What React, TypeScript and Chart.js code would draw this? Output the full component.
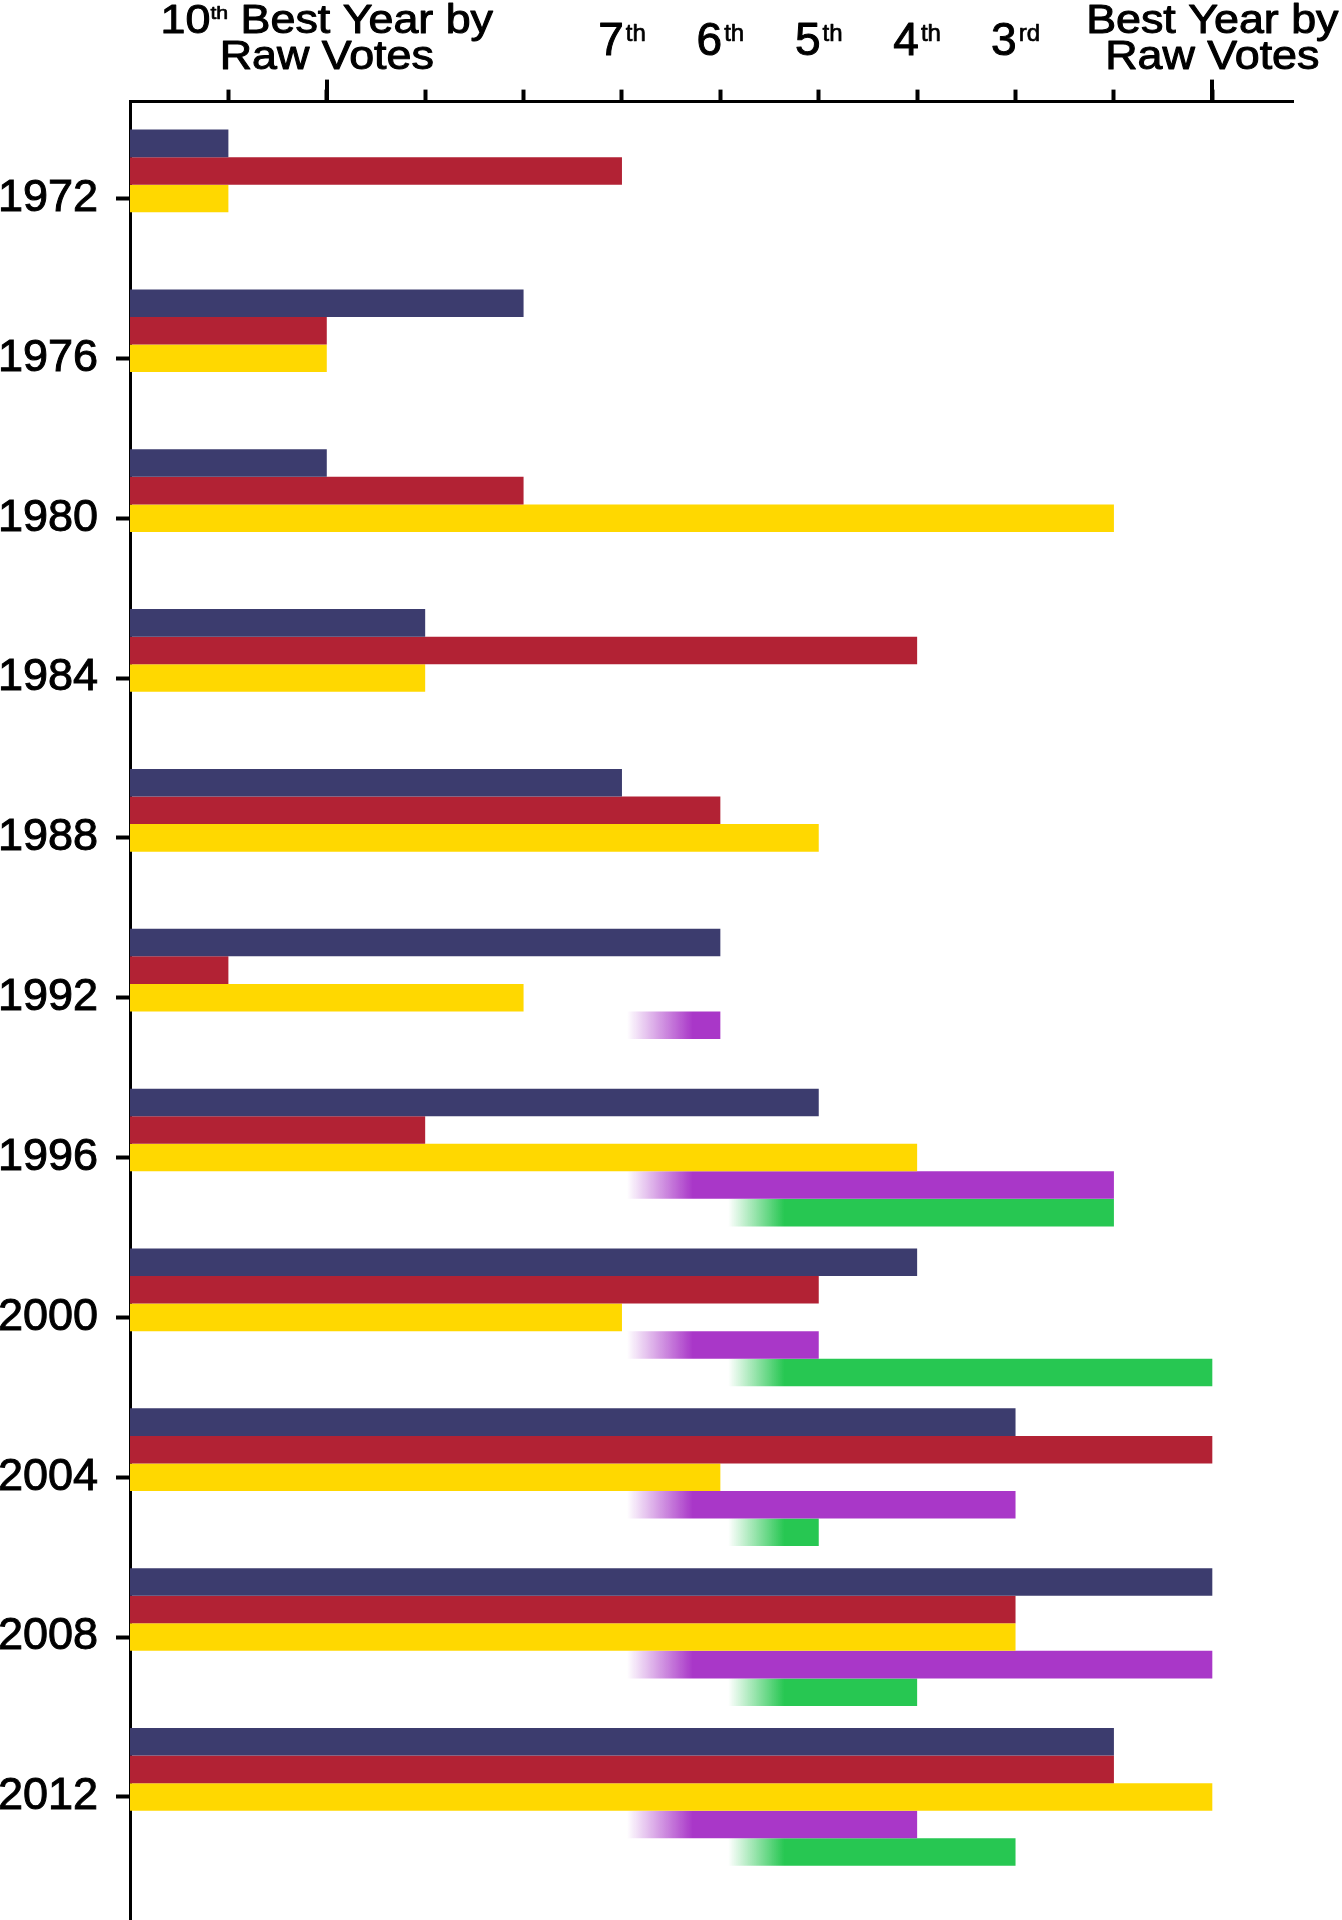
import React, { useEffect, useRef } from 'react';
import { Chart, registerables } from 'chart.js';

Chart.register(...registerables);

// ---- data (rank scores: 11 = best year by raw votes, 2 = 10th best) ----
const YEARS = ['1972', '1976', '1980', '1984', '1988', '1992', '1996', '2000', '2004', '2008', '2012'];
const NAVY = [1, 4, 2, 3, 5, 6, 7, 8, 9, 11, 10];
const RED = [5, 2, 4, 8, 6, 1, 3, 7, 11, 9, 10];
const YELLOW = [1, 2, 10, 3, 7, 4, 8, 5, 6, 9, 11];
const PURPLE = [null, null, null, null, null, 6, 10, 7, 9, 11, 8];
const GREEN = [null, null, null, null, null, null, 10, 11, 7, 8, 9];

// ---- axis ticks & labels ----
const RANK_TICKS = [1, 2, 3, 4, 5, 6, 7, 8, 9, 10, 11];
const MAJOR_TICKS = [2, 11];
const ORDINAL_VALUES = [5, 6, 7, 8, 9];
const ORDINAL_NUMS = ['7', '6', '5', '4', '3'];
const ORDINAL_SUFFIXES = ['th', 'th', 'th', 'th', 'rd'];
const EXTREME_VALUES = [2, 11];
const EXTREME_NUMS = ['10', ''];
const EXTREME_SUFFIXES = ['th', ''];
const EXTREME_LINE1 = [' Best Year by', 'Best Year by'];
const EXTREME_LINE2 = ['Raw Votes', 'Raw Votes'];

// ---- styles ----
const W = 1342;
const H = 1920;
const FONT = '"Liberation Sans", Arial, Helvetica, sans-serif';
const COLORS = {
  navy: '#3C3C6E',
  red: '#B22234',
  yellow: '#FFD800',
  purple: '169,55,200',
  green: '39,199,82',
};
const PURPLE_FADE = [5.05, 5.72];
const GREEN_FADE = [6.08, 6.65];
const TEXT_STROKE = 1.0;

const rankLabels = {
  id: 'rankLabels',
  afterDraw(chart: any) {
    const ctx = chart.ctx;
    const xs = chart.scales.x;
    const top = chart.chartArea.top;
    ctx.save();
    ctx.fillStyle = '#000';
    ctx.strokeStyle = '#000';
    ctx.lineWidth = 4;
    MAJOR_TICKS.forEach((v) => {
      const x = Math.round(xs.getPixelForValue(v));
      ctx.beginPath();
      ctx.moveTo(x, top);
      ctx.lineTo(x, top - 22);
      ctx.stroke();
    });
    ctx.textAlign = 'left';
    ctx.textBaseline = 'alphabetic';
    ctx.lineJoin = 'round';
    const put = (t: string, x: number, y: number, sw: number) => {
      ctx.lineWidth = sw;
      ctx.strokeText(t, x, y);
      ctx.fillText(t, x, y);
    };
    const mainO = 46;
    const supO = 24;
    ORDINAL_VALUES.forEach((v, i) => {
      const cx = xs.getPixelForValue(v);
      ctx.font = `${mainO}px ${FONT}`;
      const w1 = ctx.measureText(ORDINAL_NUMS[i]).width;
      ctx.font = `${supO}px ${FONT}`;
      const w2 = ctx.measureText(ORDINAL_SUFFIXES[i]).width;
      const start = cx - (w1 + 2 + w2) / 2;
      ctx.font = `${mainO}px ${FONT}`;
      put(ORDINAL_NUMS[i], start, 55, TEXT_STROKE);
      ctx.font = `${supO}px ${FONT}`;
      put(ORDINAL_SUFFIXES[i], start + w1 + 2, 41, TEXT_STROKE * 0.7);
    });
    const SX = 1.12;
    const mainSize = 40;
    const supSize = 19;
    EXTREME_VALUES.forEach((v, i) => {
      const cx = xs.getPixelForValue(v);
      const segs = [
        { t: EXTREME_NUMS[i], s: mainSize, b: 33 },
        { t: EXTREME_SUFFIXES[i], s: supSize, b: 19 },
        { t: EXTREME_LINE1[i], s: mainSize, b: 33 },
      ].filter((s) => s.t);
      let total = 0;
      const widths = segs.map((s) => {
        ctx.font = `${s.s}px ${FONT}`;
        const w = ctx.measureText(s.t).width;
        total += w;
        return w;
      });
      ctx.save();
      ctx.translate(cx, 0);
      ctx.scale(SX, 1);
      let x = -total / 2;
      segs.forEach((s, k) => {
        ctx.font = `${s.s}px ${FONT}`;
        put(s.t, x, s.b, s.s === mainSize ? TEXT_STROKE : TEXT_STROKE * 0.7);
        x += widths[k];
      });
      ctx.font = `${mainSize}px ${FONT}`;
      const w2 = ctx.measureText(EXTREME_LINE2[i]).width;
      put(EXTREME_LINE2[i], -w2 / 2, 69, TEXT_STROKE);
      ctx.restore();
    });
    ctx.restore();
  },
};

export default function App() {
  const ref = useRef<HTMLCanvasElement>(null);
  useEffect(() => {
    document.body.style.margin = '0';
    const canvas = ref.current;
    if (!canvas) return;
    const toPoints = (vals: (number | null)[]) => vals.map((v, i) => ({ x: v, y: i }));
    const fade = (rgb: string, range: number[]) => (c: any) => {
      const chart = c.chart;
      const xs = chart.scales && chart.scales.x;
      if (!chart.chartArea || !xs) return `rgb(${rgb})`;
      const g = chart.ctx.createLinearGradient(xs.getPixelForValue(range[0]), 0, xs.getPixelForValue(range[1]), 0);
      g.addColorStop(0, `rgba(${rgb},0)`);
      g.addColorStop(0.5, `rgba(${rgb},0.5)`);
      g.addColorStop(1, `rgba(${rgb},1)`);
      return g;
    };
    const chart = new Chart(canvas, {
      type: 'bar',
      data: {
        datasets: [
          { label: 'Navy', data: toPoints(NAVY), backgroundColor: COLORS.navy },
          { label: 'Red', data: toPoints(RED), backgroundColor: COLORS.red },
          { label: 'Yellow', data: toPoints(YELLOW), backgroundColor: COLORS.yellow },
          { label: 'Purple', data: toPoints(PURPLE), backgroundColor: fade(COLORS.purple, PURPLE_FADE) },
          { label: 'Green', data: toPoints(GREEN), backgroundColor: fade(COLORS.green, GREEN_FADE) },
        ] as any,
      },
      options: {
        animation: false,
        responsive: false,
        devicePixelRatio: 1,
        indexAxis: 'y',
        layout: { padding: { left: 0, top: 0, right: 49, bottom: 0 } },
        datasets: { bar: { barPercentage: 1, categoryPercentage: 0.862, borderWidth: 0 } },
        plugins: { legend: { display: false }, tooltip: { enabled: false } },
        scales: {
          x: {
            type: 'linear',
            position: 'top',
            min: 0,
            max: 11.82,
            offset: false,
            afterBuildTicks: (s: any) => {
              s.ticks = RANK_TICKS.map((v) => ({ value: v }));
            },
            afterFit: (s: any) => {
              s.height = 101.6;
              s.paddingLeft = 0;
              s.paddingRight = 0;
            },
            ticks: { display: false },
            grid: { offset: false, drawOnChartArea: false, drawTicks: true, tickLength: 12, tickWidth: 4, tickColor: '#000' },
            border: { display: true, color: '#000', width: 3 },
          },
          y: {
            type: 'linear',
            reverse: true,
            min: -0.606,
            max: 10.77,
            offset: false,
            afterBuildTicks: (s: any) => {
              s.ticks = YEARS.map((_, i) => ({ value: i }));
            },
            afterFit: (s: any) => {
              s.width = 130;
              s.paddingTop = 0;
              s.paddingBottom = 0;
            },
            ticks: {
              autoSkip: false,
              callback: (_v: any, i: number) => YEARS[i],
              font: { family: FONT, size: 45 },
              color: '#000',
              padding: 18,
              textStrokeColor: '#000',
              textStrokeWidth: TEXT_STROKE,
            },
            grid: { offset: false, drawOnChartArea: false, drawTicks: true, tickLength: 14, tickWidth: 4, tickColor: '#000' },
            border: { display: true, color: '#000', width: 3 },
          },
        },
      } as any,
      plugins: [rankLabels],
    });
    return () => chart.destroy();
  }, []);
  return (
    <div style={{ width: W, height: H, background: '#fff' }}>
      <canvas ref={ref} width={W} height={H} style={{ display: 'block' }} />
    </div>
  );
}
